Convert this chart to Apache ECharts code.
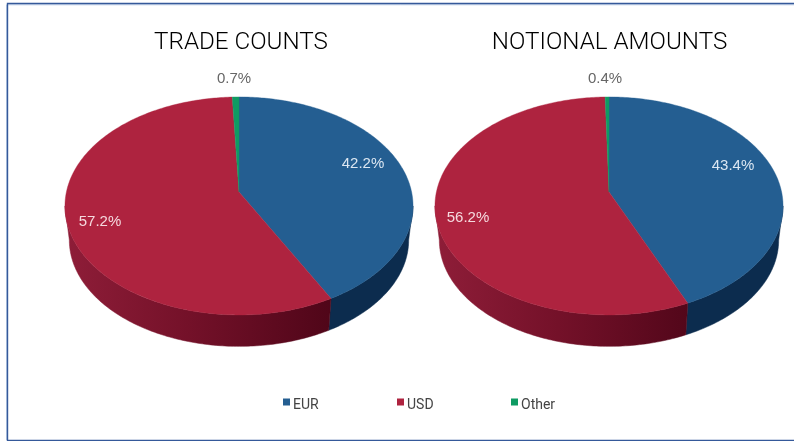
<!DOCTYPE html>
<html>
<head>
<meta charset="utf-8">
<style>
html, body { margin: 0; padding: 0; background: #fff; }
#chart { width: 794px; height: 441px; }
</style>
<script src="https://cdn.jsdelivr.net/npm/echarts@6/dist/echarts.min.js"></script>
</head>
<body>
<div id="chart"></div>
<script>
const pieTitles = ['TRADE COUNTS', 'NOTIONAL AMOUNTS'];
const eurValues = [42.2, 43.4];
const usdValues = [57.2, 56.2];
const otherValues = [0.7, 0.4];

// layout of the two tilted pies, px
const APEX_Y = 192;
const PIE_CX = [239, 609];
const PIE_R = 172.6;
const PIE_B = 107.2;
const TILT = 0.128;
const WALL_SCALE = 0.975;
const WALL_DROP = 34.5;
const TANGENT = Math.acos(-TILT);

const COLORS = { EUR: '#245E91', USD: '#AE233F', Other: '#0F9B63' };
const LABEL_COLORS = { EUR: '#DCE7F2', USD: '#F5D9DE', Other: '#666666' };
// label centre relative to pie apex
const LABEL_OFFSET = {
    EUR: [[124, -28], [124, -26]],
    USD: [[-139, 30], [-141, 26]],
    Other: [[-5, -113], [-4, -113]],
};

// square sits in the top of the icon box so it rides above the legend text
const LEGEND_ICON = 'path://M0 0H7V7H0Z M0 13L0 13';

function rimPoint(pie, theta, wall) {
    const x = Math.sin(theta);
    const y = -Math.cos(theta);
    const w = 1 - TILT * y;
    const s = wall ? WALL_SCALE : 1;
    return [
        PIE_CX[pie] + s * PIE_R * x / w,
        APEX_Y + s * PIE_B * y / w + (wall ? WALL_DROP : 0),
    ];
}

function arc(pie, a, b, wall) {
    const pts = [];
    const n = Math.max(2, Math.ceil(Math.abs(b - a) / 0.015));
    for (let i = 0; i <= n; i++) pts.push(rimPoint(pie, a + (b - a) * i / n, wall));
    return pts;
}

function wallFill(name, pie) {
    if (name === 'USD') {
        const left = PIE_CX[pie] - PIE_R;
        return new echarts.graphic.LinearGradient(left, 0, left + 270, 0, [
            { offset: 0, color: '#8E1D38' },
            { offset: 0.45, color: '#741129' },
            { offset: 1, color: '#4E0518' },
        ], true);
    }
    return name === 'EUR' ? '#0C2C4E' : '#0A6B44';
}

const seriesOrder = [
    { name: 'EUR', values: eurValues },
    { name: 'USD', values: usdValues },
    { name: 'Other', values: otherValues },
];

// every slice starts where the previous one ended, clockwise from 12 o'clock
function sliceStart(name, pie) {
    let sum = 0;
    for (const s of seriesOrder) {
        if (s.name === name) break;
        sum += s.values[pie];
    }
    return sum;
}

function renderSlice(name) {
    return function (params, api) {
        const pie = api.value(0);
        const value = api.value(1);
        const total = seriesOrder.reduce((t, s) => t + s.values[pie], 0);
        const a = sliceStart(name, pie) / total * Math.PI * 2;
        const b = a + value / total * Math.PI * 2;
        const children = [];

        const wa = Math.max(a, TANGENT);
        const wb = Math.min(b, Math.PI * 2 - TANGENT);
        if (wb > wa) {
            const fill = wallFill(name, pie);
            children.push({
                type: 'polygon',
                z2: 1,
                shape: { points: arc(pie, wa, wb, false).concat(arc(pie, wb, wa, true)) },
                style: { fill: fill, stroke: fill, lineWidth: 0.5 },
            });
        }

        children.push({
            type: 'polygon',
            z2: 2,
            shape: { points: [[PIE_CX[pie], APEX_Y]].concat(arc(pie, a, b, false)) },
            style: { fill: COLORS[name], stroke: COLORS[name], lineWidth: 0.4 },
        });

        const off = LABEL_OFFSET[name][pie];
        children.push({
            type: 'text',
            z2: 3,
            style: {
                x: PIE_CX[pie] + off[0],
                y: APEX_Y + off[1],
                text: value.toFixed(1) + '%',
                fill: LABEL_COLORS[name],
                font: '15px "Liberation Sans", Arial, sans-serif',
                textAlign: 'center',
                textVerticalAlign: 'middle',
            },
        });

        return { type: 'group', children: children };
    };
}

const chart = echarts.init(document.getElementById('chart'), null, { renderer: 'canvas' });

const titleStyle = { fontFamily: 'Roboto', fontWeight: 300, fontSize: 24.2, color: '#000' };

chart.setOption({
    animation: false,
    backgroundColor: '#fff',
    title: [
        { text: pieTitles[0], left: 241, top: 31, padding: 0, textAlign: 'center', textStyle: titleStyle },
        { text: pieTitles[1], left: 609.5, top: 31, padding: 0, textAlign: 'center', textStyle: titleStyle },
    ],
    legend: seriesOrder.map((s, i) => ({
        data: [s.name],
        left: 283 + i * 114,
        top: 398,
        padding: 0,
        icon: LEGEND_ICON,
        itemWidth: 7,
        itemHeight: 13,
        selectedMode: false,
        textStyle: { fontFamily: 'Roboto', fontSize: 14, color: '#444', padding: [0, 0, 0, -2] },
    })),
    graphic: [
        { type: 'polyline', silent: true,
          shape: { points: [[794, 4.8], [6.5, 4.8], [6.5, 440]] },
          style: { fill: null, stroke: '#BCCDE6', lineWidth: 1 } },
        { type: 'polyline', silent: true,
          shape: { points: [[794, 3.5], [7.5, 3.5], [7.5, 440.5], [794, 440.5]] },
          style: { fill: null, stroke: '#35599A', lineWidth: 1.4 } },
    ],
    series: seriesOrder.map((s) => ({
        type: 'custom',
        name: s.name,
        coordinateSystem: 'none',
        itemStyle: { color: COLORS[s.name] },
        renderItem: renderSlice(s.name),
        data: s.values.map((v, pie) => [pie, v]),
    })),
});
</script>
</body>
</html>
